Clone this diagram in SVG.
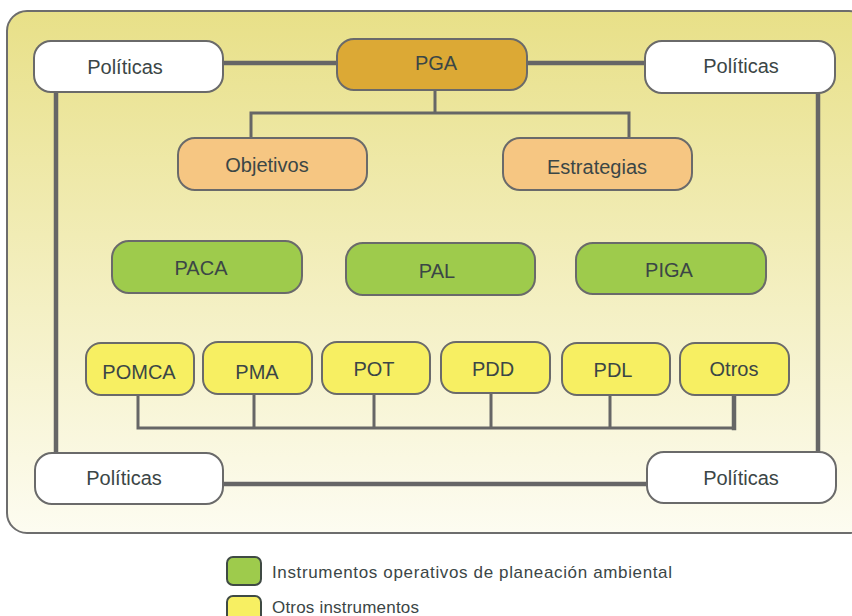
<svg xmlns="http://www.w3.org/2000/svg" width="852" height="616" viewBox="0 0 852 616">
<defs>
<linearGradient id="bg" x1="0" y1="0" x2="0" y2="1">
<stop offset="0" stop-color="#e8e088"/>
<stop offset="1" stop-color="#fdfcf1"/>
</linearGradient>
<style>
.n{stroke:#6a6a6a;stroke-width:2}
.w{fill:#ffffff}
.pga{fill:#dca935}
.or{fill:#f6c682}
.gr{fill:#9ecb4c}
.ye{fill:#f7ef62}
text{font-family:"Liberation Sans",Arial,sans-serif;font-size:20px;fill:#3b4646;text-anchor:middle}
.lg{font-size:17px;text-anchor:start}
.c{fill:none;stroke:#666;stroke-linecap:square}
.t4{stroke-width:4.5}
.t3{stroke-width:3}
</style>
</defs>
<rect x="7" y="11" width="862" height="522" rx="20" fill="url(#bg)" stroke="#6d6d6d" stroke-width="2"/>
<g id="connectors">
<path class="c t4" d="M223 63H337M527 63H645"/>
<path class="c t4" d="M56 92V453M818 93V452"/>
<path class="c t4" d="M223 484H647"/>
<path class="c t3" d="M435 90V113M251 138V113H629V138"/>
<path class="c t3" d="M138 395V428H734M254 394V428M374 394V428M491 393V428M610 395V428"/>
<path class="c t4" d="M734 395V428"/>
</g>
<g id="politicas-tl"><rect class="n w" x="34" y="41" width="189" height="51" rx="17"/><text x="125" y="74">Políticas</text></g>
<g id="pga"><rect class="n pga" x="337" y="39" width="190" height="51" rx="17"/><text x="436" y="70">PGA</text></g>
<g id="politicas-tr"><rect class="n w" x="645" y="41" width="190" height="52" rx="17"/><text x="741" y="73">Políticas</text></g>
<g id="objetivos"><rect class="n or" x="178" y="138" width="189" height="52" rx="17"/><text x="267" y="172">Objetivos</text></g>
<g id="estrategias"><rect class="n or" x="503" y="138" width="189" height="52" rx="17"/><text x="597" y="174">Estrategias</text></g>
<g id="paca"><rect class="n gr" x="112" y="241" width="190" height="52" rx="17"/><text x="201" y="275">PACA</text></g>
<g id="pal"><rect class="n gr" x="346" y="243" width="189" height="52" rx="17"/><text x="437" y="278">PAL</text></g>
<g id="piga"><rect class="n gr" x="576" y="243" width="190" height="51" rx="17"/><text x="669" y="277">PIGA</text></g>
<g id="pomca"><rect class="n ye" x="86" y="343" width="108" height="52" rx="15"/><text x="139" y="379">POMCA</text></g>
<g id="pma"><rect class="n ye" x="203" y="342" width="109" height="52" rx="15"/><text x="257" y="379">PMA</text></g>
<g id="pot"><rect class="n ye" x="322" y="342" width="108" height="52" rx="15"/><text x="374" y="376">POT</text></g>
<g id="pdd"><rect class="n ye" x="441" y="342" width="109" height="51" rx="15"/><text x="493" y="376">PDD</text></g>
<g id="pdl"><rect class="n ye" x="562" y="343" width="108" height="52" rx="15"/><text x="613" y="377">PDL</text></g>
<g id="otros"><rect class="n ye" x="680" y="343" width="109" height="52" rx="15"/><text x="734" y="376">Otros</text></g>
<g id="politicas-bl"><rect class="n w" x="35" y="453" width="188" height="51" rx="17"/><text x="124" y="485">Políticas</text></g>
<g id="politicas-br"><rect class="n w" x="647" y="452" width="189" height="51" rx="17"/><text x="741" y="485">Políticas</text></g>
<g id="legend">
<rect x="227" y="557" width="34" height="28" rx="6" fill="#9ecb4c" stroke="#3f4a44" stroke-width="2"/>
<text class="lg" x="272" y="578" textLength="400" lengthAdjust="spacing">Instrumentos operativos de planeación ambiental</text>
<rect x="227" y="596" width="34" height="28" rx="6" fill="#f7ef62" stroke="#3f4a44" stroke-width="2"/>
<text class="lg" x="272" y="613" textLength="147" lengthAdjust="spacing">Otros instrumentos</text>
</g>
</svg>
